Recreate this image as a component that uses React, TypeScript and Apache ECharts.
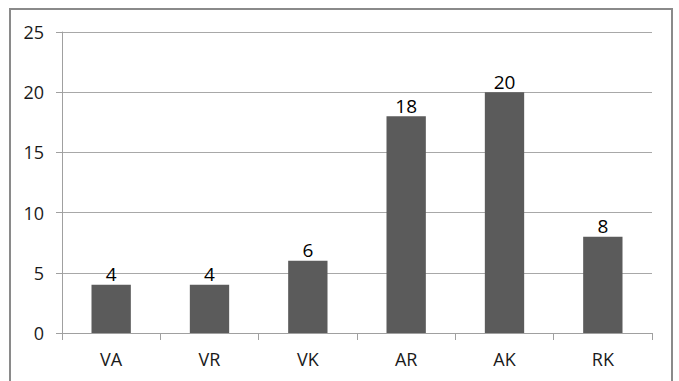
import React, { useEffect, useRef } from "react";
import * as echarts from "echarts";

const categories = ["VA", "VR", "VK", "AR", "AK", "RK"];
const values = [4, 4, 6, 18, 20, 8];
const yTicks = { min: 0, max: 25, interval: 5 };

export default function App() {
  const ref = useRef<HTMLDivElement>(null);
  useEffect(() => {
    if (!ref.current) return;
    const chart = echarts.init(ref.current, null, { renderer: "svg" });
    chart.setOption({
      animation: false,
      backgroundColor: "#ffffff",
      grid: { left: 62, top: 32, right: 27, bottom: 48 },
      graphic: [
        {
          type: "rect",
          shape: { x: 10, y: 9, width: 662, height: 420 },
          style: { fill: "none", stroke: "#8a8a8a", lineWidth: 2 },
          silent: true,
          z: 100,
        },
      ],
      xAxis: {
        type: "category",
        data: categories,
        axisLine: { show: true, lineStyle: { color: "#a0a0a0", width: 1 } },
        axisTick: { show: true, length: 7, lineStyle: { color: "#a0a0a0" } },
        axisLabel: {
          color: "#1a1a1a",
          fontSize: 18,
          fontFamily: "Open Sans",
          margin: 17,
        },
      },
      yAxis: {
        type: "value",
        min: yTicks.min,
        max: yTicks.max,
        interval: yTicks.interval,
        axisLine: { show: true, lineStyle: { color: "#a0a0a0", width: 1 } },
        axisTick: { show: true, length: 6, lineStyle: { color: "#a0a0a0" } },
        axisLabel: {
          color: "#1a1a1a",
          fontSize: 18,
          fontFamily: "Open Sans",
          margin: 18,
        },
        splitLine: { show: true, lineStyle: { color: "#a8a8a8", width: 1 } },
      },
      series: [
        {
          type: "bar",
          data: values,
          barWidth: "40%",
          itemStyle: { color: "#5b5b5b" },
          label: {
            show: true,
            position: "top",
            color: "#000",
            fontSize: 19,
            fontFamily: "Open Sans",
            distance: 1,
          },
        },
      ],
    });
    return () => chart.dispose();
  }, []);
  return (
    <div
      ref={ref}
      style={{ position: "fixed", left: 0, top: 0, width: 679, height: 381 }}
    />
  );
}
